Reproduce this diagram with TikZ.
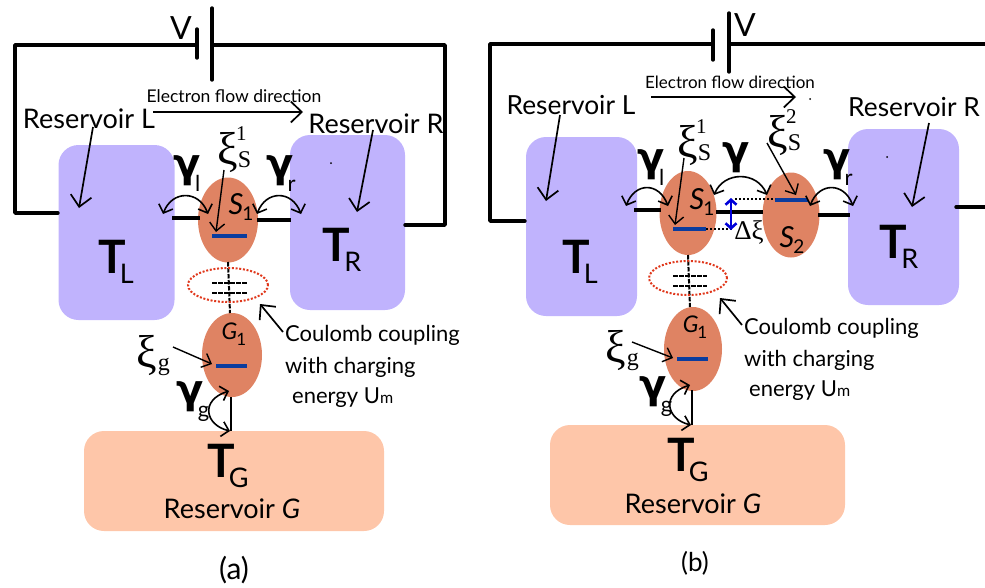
\documentclass[tikz,border=0pt]{standalone}
\usepackage{fontspec}
\setmainfont{Lato}
\newfontfamily\xifont{Liberation Serif}
\newfontfamily\gamfont{DejaVu Sans}
\usetikzlibrary{arrows.meta,shapes.geometric}
\definecolor{resblue}{HTML}{C0B3FD}
\definecolor{respeach}{HTML}{FEC6A9}
\definecolor{dotred}{HTML}{DF8363}
\definecolor{levelblue}{HTML}{0B3C9E}
\definecolor{couldot}{HTML}{E0381C}
\newcommand{\fsz}[1]{\fontsize{#1pt}{#1pt}\selectfont}
\newcommand{\lowsub}[3]{\raisebox{#2pt}{\fsz{#1}#3}}
\newcommand{\TT}[1]{\fsz{46}\textbf{T}\kern-6pt\lowsub{27}{-10}{#1}}
\newcommand{\GAM}[1]{{\gamfont\fsz{40}\textbf{γ}}\kern-6pt\lowsub{22}{-14}{#1}}
\newcommand{\XI}[2]{{\xifont\fsz{46}ξ\kern0pt\lowsub{24}{-3}{S}\kern-15pt\lowsub{21}{24}{#2}}}
\newcommand{\XIG}{{\xifont\fsz{46}ξ\kern1pt\lowsub{24}{-3}{g}}}
\newcommand{\DOTL}[2]{\fsz{29}\textit{#1}\kern-1pt\lowsub{19}{-6}{#2}}
\tikzset{
 x=1pt,y=-1pt,
 wire/.style={line width=3.4pt,line cap=round,line join=round},
 lead/.style={line width=3.4pt},
 res/.style={rectangle,rounded corners=20pt,draw=none,inner sep=0pt,minimum width=#1},
 qdot/.style={ellipse,fill=dotred,inner sep=0pt},
 lvl/.style={line width=3.2pt,draw=levelblue},
 ptr/.style={line width=1.7pt,-{Straight Barb[length=11pt,width=21pt,line width=1.7pt]}},
 thin ptr/.style={line width=1.4pt,-{Straight Barb[length=8pt,width=15pt,line width=1.4pt]}},
 hop/.style={line width=1.6pt,{Straight Barb[length=7pt,width=15pt,line width=1.6pt]}-{Straight Barb[length=7pt,width=15pt,line width=1.6pt]}},
 dashln/.style={line width=2pt,dash pattern=on 4.5pt off 1.5pt},
 dotln/.style={line width=1.8pt,dash pattern=on 2pt off 2pt},
 lab/.style={inner sep=0pt,font=\fsz{27}},
 labb/.style={inner sep=0pt,font=\fsz{26.3}},
 txt/.style={inner sep=0pt,font=\fsz{22}},
 sm/.style={inner sep=0pt,font=\fsz{17.5}},
 smb/.style={inner sep=0pt,font=\fsz{17}},
 coul/.style={line width=2pt,dash pattern=on 2pt off 1.7pt,ellipse,inner sep=0pt,draw=couldot},
 pnt/.style={circle,fill=black,inner sep=0pt,minimum size=2pt},
}
\begin{document}
\begin{tikzpicture}
\useasboundingbox (0,0) rectangle (985,587);
% ---------- panel (a)
\node[res=116pt,fill=resblue,minimum height=175pt] (aTL) at (116.5,232.5) {};
\node[res=115pt,fill=resblue,minimum height=175pt] (aTR) at (347.5,222.5) {};
\node[res=300pt,fill=respeach,minimum height=100pt] (aTG) at (234,481) {};
\node[qdot,minimum width=60pt,minimum height=85pt] (aS) at (228,220) {};
\node[qdot,minimum width=60pt,minimum height=84pt] (aG) at (232,355) {};
\coordinate (aP1t) at (197,29); \coordinate (aP1b) at (197,58);
\coordinate (aP2t) at (212,8); \coordinate (aP2b) at (212,80);
\coordinate (aW1) at (197,45); \coordinate (aW2) at (212,45);
\coordinate (aC1) at (15,45); \coordinate (aC2) at (15,213); \coordinate (aC3) at (58,213);
\coordinate (aC4) at (445,45); \coordinate (aC5) at (445,225); \coordinate (aC6) at (405,225);
\draw[wire] (aP1t) -- (aP1b);
\draw[wire] (aP2t) -- (aP2b);
\draw[wire] (aW1) -- (aC1) -- (aC2) -- (aC3);
\draw[wire] (aW2) -- (aC4) -- (aC5) -- (aC6);
\node[lab] (aV) at (181,28) {\fsz{32}V};
\node[sm] (aEf) at (234,96) {Electron flow direction};
\coordinate (aEa) at (153,112); \coordinate (aEb) at (303,112);
\draw[ptr] (aEa) -- (aEb);
\node[lab] (aRL) at (89,119) {Reservoir L};
\node[lab] (aRR) at (376,124) {Reservoir R};
\coordinate (aRLa) at (93,127); \coordinate (aRLb) at (79,208);
\coordinate (aRRa) at (373,130); \coordinate (aRRb) at (357,212);
\draw[ptr] (aRLa) -- (aRLb);
\draw[ptr] (aRRa) -- (aRRb);
\node[lab] (aTLt) at (116,262) {\TT{L}};
\node[lab] (aTRt) at (342,250) {\TT{R}};
\coordinate (aLa) at (172,218); \coordinate (aLb) at (200,218);
\coordinate (aLc) at (257,220); \coordinate (aLd) at (291,220);
\draw[lead] (aLa) -- (aLb);
\draw[lead] (aLc) -- (aLd);
\coordinate (aBa) at (212,236); \coordinate (aBb) at (247,236);
\draw[lvl] (aBa) -- (aBb);
\coordinate (aHa) at (163,214); \coordinate (aHb) at (208,214);
\coordinate (aHc) at (257,214); \coordinate (aHd) at (301,214);
\draw[hop] (aHa) .. controls (172,190) and (199,190) .. (aHb);
\draw[hop] (aHc) .. controls (266,190) and (292,190) .. (aHd);
\node[lab] (aGl) at (187,174) {\GAM{l}};
\node[lab] (aGr) at (281,174) {\GAM{r}};
\node[lab] (aXi) at (232,150) {\XI{s}{1}};
\coordinate (aXa) at (224,170); \coordinate (aXb) at (216,232);
\draw[thin ptr] (aXa) -- (aXb);
\node[lab] (aSl) at (241,207) {\DOTL{S}{1}};
\coordinate (aDa) at (228,262); \coordinate (aDb) at (230,313);
\draw[dashln] (aDa) -- (aDb);
\coordinate (aD1) at (212,283); \coordinate (aD2) at (248,283);
\coordinate (aD3) at (212,293); \coordinate (aD4) at (248,293);
\draw[dashln] (aD1) -- (aD2);
\draw[dashln] (aD3) -- (aD4);
\node[coul,minimum width=80pt,minimum height=34pt] (aCo) at (228,285) {};
\node[lab] (aG1) at (234,334) {\fsz{23}\textit{G}\kern-1pt\lowsub{17}{-6}{1}};
\coordinate (aBc) at (216,366); \coordinate (aBd) at (247,366);
\draw[lvl] (aBc) -- (aBd);
\node[lab] (aXg) at (153,356) {\XIG};
\coordinate (aXc) at (173,347); \coordinate (aXd) at (212,364);
\draw[thin ptr] (aXc) -- (aXd);
\node[lab] (aGg) at (193,402) {\GAM{g}};
\coordinate (aVa) at (231,397); \coordinate (aVb) at (231,431);
\draw[line width=1.6pt] (aVa) -- (aVb);
\coordinate (aCa) at (229,391); \coordinate (aCb) at (230,431);
\draw[hop] (aCa) .. controls (200,400) and (205,425) .. (aCb);
\node[lab] (aTGt) at (228,466) {\TT{G}};
\node[lab] (aRG) at (232,509) {Reservoir \textit{G}};
\coordinate (aCoa) at (283,332); \coordinate (aCob) at (260,304);
\draw[ptr] (aCoa) -- (aCob);
\node[txt,anchor=west] (aCt1) at (285,335) {Coulomb coupling};
\node[txt,anchor=west] (aCt2) at (285,367) {with charging};
\node[txt,anchor=west] (aCt3) at (292,398) {energy U\lowsub{16}{0}{m}};
\node[lab] (aCap) at (234,570) {\fsz{30}(a)};
% ---------- panel (b)
\node[res=111pt,fill=resblue,minimum height=179pt] (bTL) at (581.5,226.5) {};
\node[res=111pt,fill=resblue,minimum height=176pt] (bTR) at (903.5,217) {};
\node[res=295pt,fill=respeach,minimum height=100pt] (bTG) at (697.5,475) {};
\node[qdot,minimum width=57pt,minimum height=84pt] (bS1) at (688,213) {};
\node[qdot,minimum width=57pt,minimum height=85pt] (bS2) at (791,215) {};
\node[qdot,minimum width=58pt,minimum height=84pt] (bG) at (693,349) {};
\coordinate (bP1t) at (713,30); \coordinate (bP1b) at (713,60);
\coordinate (bP2t) at (729,13); \coordinate (bP2b) at (729,72);
\coordinate (bW1) at (713,44); \coordinate (bW2) at (729,44);
\coordinate (bC1) at (490,44); \coordinate (bC2) at (490,221); \coordinate (bC3) at (525,221);
\coordinate (bC4) at (985,44); \coordinate (bC5) at (956,207); \coordinate (bC6) at (985,207);
\draw[wire] (bP1t) -- (bP1b);
\draw[wire] (bP2t) -- (bP2b);
\draw[wire] (bW1) -- (bC1) -- (bC2) -- (bC3);
\draw[wire] (bW2) -- (bC4);
\draw[wire] (bC5) -- (bC6);
\node[lab] (bV) at (745,25) {\fsz{32}V};
\node[smb] (bEf) at (730,82) {Electron flow direction};
\coordinate (bEa) at (651,97); \coordinate (bEb) at (796,97);
\draw[ptr] (bEa) -- (bEb);
\node[pnt] (bDot) at (810,99) {};
\node[pnt] (bDot2) at (887,157) {};
\node[pnt] (aDot2) at (331,163) {};
\node[labb] (bRL) at (571,105) {Reservoir L};
\node[labb] (bRR) at (914,107) {Reservoir R};
\coordinate (bRLa) at (560,115); \coordinate (bRLb) at (546,201);
\coordinate (bRRa) at (929,123); \coordinate (bRRb) at (912,207);
\draw[ptr] (bRLa) -- (bRLb);
\draw[ptr] (bRRa) -- (bRRb);
\node[lab] (bTLt) at (580,262) {\TT{L}};
\node[lab] (bTRt) at (899,247) {\TT{R}};
\coordinate (bLa) at (634,210); \coordinate (bLb) at (661,210);
\coordinate (bLc) at (716,212); \coordinate (bLd) at (763,212);
\coordinate (bLe) at (818,215); \coordinate (bLf) at (850,215);
\draw[lead] (bLa) -- (bLb);
\draw[lead] (bLc) -- (bLd);
\draw[lead] (bLe) -- (bLf);
\coordinate (bBa) at (673,229); \coordinate (bBb) at (706,229);
\coordinate (bBc) at (775,200); \coordinate (bBd) at (808,200);
\draw[lvl] (bBa) -- (bBb);
\draw[lvl] (bBc) -- (bBd);
\coordinate (bHa) at (626,206); \coordinate (bHb) at (668,206);
\coordinate (bHc) at (714,195); \coordinate (bHd) at (767,195);
\coordinate (bHe) at (810,206); \coordinate (bHf) at (853,206);
\draw[hop] (bHa) .. controls (635,182) and (659,182) .. (bHb);
\draw[hop] (bHc) .. controls (724,171) and (757,171) .. (bHd);
\draw[hop] (bHe) .. controls (819,182) and (844,182) .. (bHf);
\node[lab] (bGl) at (651,168) {\GAM{l}};
\node[lab] (bGm) at (736,158) {\fsz{40}\gamfont\textbf{γ}};
\node[lab] (bGr) at (838,168) {\GAM{r}};
\node[lab] (bXi1) at (692,143) {\XI{s}{1}};
\node[lab] (bXi2) at (782,133) {\XI{s}{2}};
\coordinate (bXa) at (684,158); \coordinate (bXb) at (675,225);
\coordinate (bXc) at (767,143); \coordinate (bXd) at (796,195);
\draw[thin ptr] (bXa) -- (bXb);
\draw[thin ptr] (bXc) -- (bXd);
\node[lab] (bS1l) at (702,202) {\DOTL{S}{1}};
\node[lab] (bS2l) at (792,240) {\DOTL{S}{2}};
\coordinate (bDda) at (735,199); \coordinate (bDdb) at (775,199);
\coordinate (bDdc) at (706,229); \coordinate (bDdd) at (733,229);
\draw[dotln] (bDda) -- (bDdb);
\draw[dotln] (bDdc) -- (bDdd);
\coordinate (bUa) at (731,198); \coordinate (bUb) at (731,230);
\draw[line width=2.6pt,draw=blue!85!black,{Straight Barb[length=5pt,width=11pt,line width=2.6pt]}-{Straight Barb[length=5pt,width=11pt,line width=2.6pt]}] (bUa) -- (bUb);
\node[lab] (bDx) at (749,232) {\xifont\fsz{27}Δξ};
\coordinate (bDa) at (688,255); \coordinate (bDb) at (690,307);
\draw[dashln] (bDa) -- (bDb);
\coordinate (bD1) at (673,276); \coordinate (bD2) at (707,276);
\coordinate (bD3) at (673,286); \coordinate (bD4) at (707,286);
\draw[dashln] (bD1) -- (bD2);
\draw[dashln] (bD3) -- (bD4);
\node[coul,minimum width=78pt,minimum height=34pt] (bCo) at (688,278) {};
\node[lab] (bG1) at (695,327) {\fsz{23}\textit{G}\kern-1pt\lowsub{17}{-6}{1}};
\coordinate (bBe) at (677,359); \coordinate (bBf) at (708,359);
\draw[lvl] (bBe) -- (bBf);
\node[lab] (bXg) at (622,351) {\XIG};
\coordinate (bXe) at (632,342); \coordinate (bXf) at (673,358);
\draw[thin ptr] (bXe) -- (bXf);
\node[lab] (bGg) at (656,397) {\GAM{g}};
\coordinate (bVa) at (692,390); \coordinate (bVb) at (692,425);
\draw[line width=1.6pt] (bVa) -- (bVb);
\coordinate (bCa) at (690,385); \coordinate (bCb) at (691,425);
\draw[hop] (bCa) .. controls (661,394) and (666,419) .. (bCb);
\node[lab] (bTGt) at (688,460) {\TT{G}};
\node[lab] (bRG) at (693,504) {Reservoir \textit{G}};
\coordinate (bCoa) at (742,325); \coordinate (bCob) at (720,298);
\draw[ptr] (bCoa) -- (bCob);
\node[txt,anchor=west] (bCt1) at (744,328) {Coulomb coupling};
\node[txt,anchor=west] (bCt2) at (744,360) {with charging};
\node[txt,anchor=west] (bCt3) at (749,391) {energy U\lowsub{16}{0}{m}};
\node[lab] (bCap) at (695,563) {\fsz{26}(b)};
\end{tikzpicture}
\end{document}
